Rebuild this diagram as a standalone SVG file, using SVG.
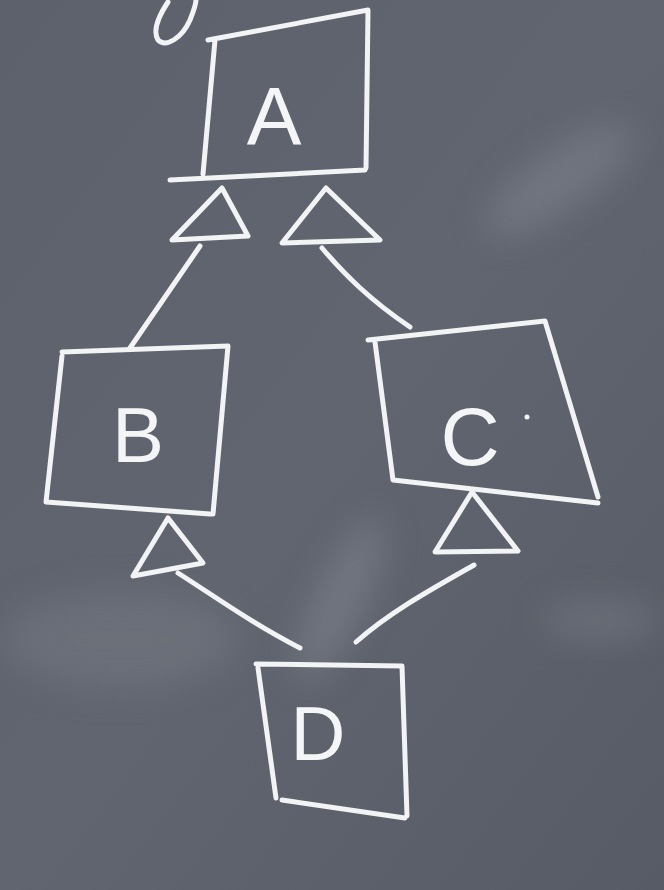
<svg xmlns="http://www.w3.org/2000/svg" width="664" height="890" viewBox="0 0 664 890">
<defs>
<style>
.chalk{fill:none;stroke:#f2f3f4;stroke-width:5;stroke-linecap:round;stroke-linejoin:round}
.lbl{fill:#f4f5f6;font-family:"Liberation Sans","DejaVu Sans",sans-serif;text-anchor:middle}
</style>
<linearGradient id="bg" x1="0" y1="0" x2="1" y2="1">
<stop offset="0" stop-color="#5c616b"/>
<stop offset="0.5" stop-color="#60656f"/>
<stop offset="1" stop-color="#565b65"/>
</linearGradient>
<filter id="blur" x="-50%" y="-50%" width="200%" height="200%"><feGaussianBlur stdDeviation="18"/></filter>
</defs>
<rect width="664" height="890" fill="url(#bg)"/>
<g opacity="0.25" filter="url(#blur)">
<ellipse cx="560" cy="180" rx="90" ry="30" fill="#a6aab2" transform="rotate(-35 560 180)"/>
<ellipse cx="340" cy="600" rx="25" ry="90" fill="#b0b4bb" transform="rotate(25 340 600)"/>
<ellipse cx="120" cy="640" rx="120" ry="50" fill="#8d919a"/>
<ellipse cx="600" cy="620" rx="60" ry="20" fill="#9ea2aa"/>
</g>
<!-- partial stroke at top -->
<path class="chalk" d="M168,2 C160,14 152,30 158,40 C166,48 182,38 190,20 C194,10 196,4 196,0"/>
<g id="A">
<path class="chalk" d="M208,40 L368,10 L366,168 M215,40 L203,174 M170,180 L365,170"/>
<text class="lbl" x="274" y="144" font-size="82">A</text>
</g>
<g id="B">
<path class="chalk" d="M62,352 L228,346 L213,514 M62,356 L46,502 L210,514"/>
<text class="lbl" x="138" y="462" font-size="78">B</text>
</g>
<g id="C">
<path class="chalk" d="M368,340 L545,321 L598,497 M375,342 L393,480 L598,503"/>
<text class="lbl" x="470" y="465" font-size="82">C</text>
<circle cx="527" cy="417" r="2.5" fill="#f2f3f4"/>
</g>
<g id="D">
<path class="chalk" d="M256,664 L402,666 L407,816 M258,668 L276,798 M282,800 L405,818"/>
<text class="lbl" x="318" y="760" font-size="76">D</text>
</g>
<g id="connectors">
<path class="chalk" d="M222,188 L248,236 L172,240 Z"/>
<path class="chalk" d="M326,188 L380,240 L282,243 Z"/>
<path class="chalk" d="M200,246 L130,348"/>
<path class="chalk" d="M322,248 C345,275 370,300 410,327"/>
<path class="chalk" d="M168,518 L203,563 L133,576 Z"/>
<path class="chalk" d="M472,492 L518,551 L435,552 Z"/>
<path class="chalk" d="M178,573 C220,600 255,625 300,648"/>
<path class="chalk" d="M474,565 C430,590 390,612 356,642"/>
</g>
</svg>
